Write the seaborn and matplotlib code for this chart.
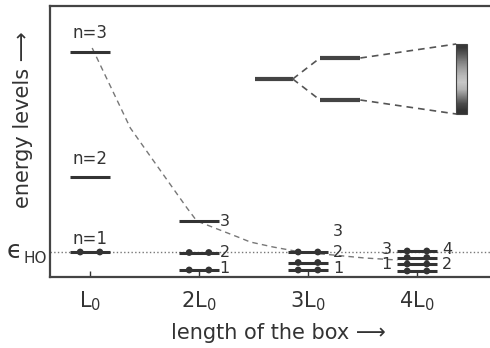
import numpy as np
import pandas as pd
import matplotlib
matplotlib.use('Agg')
import matplotlib.pyplot as plt
import seaborn as sns

# --- levels: box length (L0 units), energy (eps_HO units), occupied by electrons
box_len = [1, 1, 1, 2, 2, 2, 3, 3, 3, 4, 4, 4, 4]
level_e = [1.0, 4.0, 9.0, 0.28, 0.98, 2.24, 0.28, 0.58, 1.0, 0.24, 0.52, 0.78, 1.04]
occupied = [True, False, False, True, True, False, True, True, True, True, True, True, True]

n_labels = ['n=1', 'n=2', 'n=3']
n_label_e = [1.52, 4.7, 9.78]

lvl_txt = ['1', '2', '3', '1', '2', '3', '3', '1', '4', '2']
lvl_x = [2.19, 2.19, 2.19, 3.23, 3.23, 3.23, 3.77, 3.77, 4.23, 4.23]
lvl_e = [0.34, 0.98, 2.24, 0.34, 0.98, 1.84, 1.12, 0.5, 1.12, 0.5]
lvl_ha = ['left'] * 6 + ['right', 'right', 'left', 'left']

# dashed n=3 curve
curve_L = [1.02, 1.37, 1.61, 1.89, 1.98, 2.38, 2.47, 2.68, 2.93, 3.23, 3.52, 3.82]
curve_E = [9.16, 5.96, 4.48, 2.76, 2.24, 1.56, 1.40, 1.20, 1.00, 0.88, 0.76, 0.68]

xticks = [1, 2, 3, 4]
xtick_labels = [r'$\mathregular{L_0}$', r'$\mathregular{2L_0}$',
                r'$\mathregular{3L_0}$', r'$\mathregular{4L_0}$']

# inset sketch (splitting of a level, fanning onto a screen)
single_x = [2.51, 2.86]
single_e = 7.92
pair_x = [3.11, 3.48]
pair_e = [8.76, 7.08]
screen_x = [4.36, 4.46]
screen_e = [6.52, 9.32]
screen_shade = [0.22, 0.35, 0.5, 0.62, 0.72, 0.78, 0.7, 0.5, 0.3, 0.2]

# %%
sns.set_theme(style='white')
plt.rcParams['font.family'] = ['DejaVu Sans']
ink = '#333333'

fig = plt.figure(figsize=(4.9, 3.48), dpi=100)
ax = fig.add_axes([50 / 490, 71 / 348, 440 / 490, 271 / 348])

hw = 0.18
bx = np.array(box_len, dtype=float)
ax.hlines(level_e, bx - hw, bx + hw, color=ink, lw=2.2, zorder=3)

dots = pd.DataFrame({'x': bx, 'e': level_e, 'occ': occupied})
dots = dots[dots['occ']]
dots = pd.concat([dots.assign(x=dots['x'] - 0.09), dots.assign(x=dots['x'] + 0.09)])
sns.scatterplot(data=dots, x='x', y='e', color=ink, s=24, edgecolor='none', ax=ax, zorder=4, legend=False)

ax.axhline(1.0, ls=':', color='#777777', lw=1.0, zorder=1)

sns.lineplot(x=curve_L, y=curve_E, sort=False, color='#777777', lw=1.0,
             linestyle=(0, (4, 3)), ax=ax, zorder=2)

for t, e in zip(n_labels, n_label_e):
    ax.text(1.0, e, t, ha='center', va='center', fontsize=12, color=ink)
for t, x, e, ha in zip(lvl_txt, lvl_x, lvl_e, lvl_ha):
    ax.text(x, e, t, ha=ha, va='center', fontsize=11.5, color=ink)

# inset
ax.hlines(single_e, single_x[0], single_x[1], color='#444444', lw=3)
ax.hlines(pair_e, pair_x[0], pair_x[1], color='#444444', lw=3)
for e in pair_e:
    ax.plot([single_x[1], pair_x[0]], [single_e, e], color='#555555', lw=1.2, ls=(0, (4, 3)))
for e, s in zip(pair_e, [screen_e[1], screen_e[0]]):
    ax.plot([pair_x[1], screen_x[0]], [e, s], color='#555555', lw=1.2, ls=(0, (4, 3)))
ax.imshow(np.array(screen_shade)[:, None], cmap='gray', vmin=0, vmax=1, aspect='auto',
          interpolation='bilinear',
          extent=[screen_x[0], screen_x[1], screen_e[0], screen_e[1]], zorder=3)
ax.add_patch(plt.Rectangle((screen_x[0], screen_e[0]), screen_x[1] - screen_x[0],
                           screen_e[1] - screen_e[0], fill=False, ec='#444444', lw=0.8, zorder=4))
ax.set_xlim(0.633, 4.67)
ax.set_ylim(0, 10.84)

# axes styling
ax.spines['right'].set_visible(False)
for s in ['top', 'left', 'bottom']:
    ax.spines[s].set_color('#444444')
    ax.spines[s].set_linewidth(1.6)
ax.set_yticks([])
ax.set_xticks(xticks)
ax.set_xticklabels(xtick_labels)
ax.tick_params(axis='x', direction='in', length=4, width=1, color=ink, pad=9,
               labelsize=15, labelcolor=ink, bottom=True)
ax.set_xlabel('')
ax.set_ylabel('')

ax.text(-0.082, 1.04, '\u03f5', transform=ax.get_yaxis_transform(), ha='center', va='center',
        fontsize=18, color=ink, clip_on=False)
ax.text(-0.034, 0.74, 'HO', transform=ax.get_yaxis_transform(), ha='center', va='center',
        fontsize=11, color=ink, clip_on=False)

fig.text(23 / 490, 1 - 120 / 348, 'energy levels \u27f6', rotation=90, ha='center', va='center',
         fontsize=15, color=ink)
fig.text(278 / 490, 1 - 333 / 348, 'length of the box \u27f6', ha='center', va='center',
         fontsize=15, color=ink)

fig.savefig('out.png', dpi=100, facecolor='white')
